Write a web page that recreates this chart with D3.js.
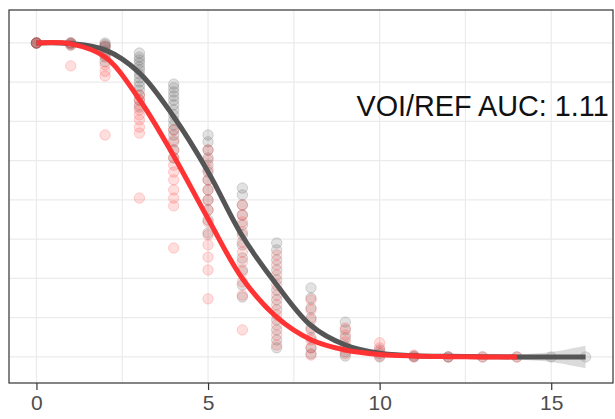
<!DOCTYPE html>
<html>
<head>
<meta charset="utf-8">
<script src="https://cdn.jsdelivr.net/npm/d3@7"></script>
<style>
    body { margin: 0; background: #fff; }
    svg { display: block; font-family: "Liberation Sans", Arial, sans-serif; }
</style>
</head>
<body>
<svg id="chart" width="615" height="419"></svg>
<script>
// fitted curves, read at integer x
const curveX = [0, 1, 2, 3, 4, 5, 6, 7, 8, 9, 10, 11, 12, 13, 14, 15, 16];
const greyCurve = [1, 0.998, 0.978, 0.905, 0.765, 0.59, 0.385, 0.23, 0.10, 0.038, 0.012, 0.004, 0.002, 0.001, 0, 0, 0];
const greyBand = [0.004, 0.004, 0.006, 0.008, 0.01, 0.01, 0.01, 0.008, 0.006, 0.005, 0.004, 0.004, 0.004, 0.005, 0.008, 0.016, 0.036];
const redX = [0, 1, 2, 3, 4, 5, 6, 7, 8, 9, 10, 11, 12, 13, 14];
const redCurve = [1, 0.997, 0.955, 0.82, 0.64, 0.44, 0.25, 0.127, 0.055, 0.022, 0.008, 0.003, 0.001, 0, 0];
const redBand = [0.004, 0.004, 0.006, 0.008, 0.01, 0.01, 0.01, 0.008, 0.006, 0.005, 0.004, 0.004, 0.004, 0.005, 0.006];

// observed points per x
const greyPoints = [
    [1, 1, 1, 1],
    [1, 1, 0.997, 0.993],
    [1, 0.995, 0.99, 0.985, 0.975, 0.965, 0.955, 0.94],
    [0.968, 0.955, 0.946, 0.936, 0.924, 0.914, 0.901, 0.889, 0.876, 0.863, 0.85, 0.834, 0.818, 0.796],
    [0.869, 0.857, 0.844, 0.831, 0.818, 0.803, 0.787, 0.771, 0.755, 0.739, 0.723, 0.707, 0.685, 0.659, 0.634],
    [0.707, 0.685, 0.659, 0.634, 0.611, 0.589, 0.564, 0.532, 0.5, 0.468, 0.436, 0.395],
    [0.538, 0.516, 0.484, 0.452, 0.42, 0.389, 0.357, 0.315, 0.277, 0.229, 0.191],
    [0.363, 0.341, 0.309, 0.277, 0.245, 0.213, 0.182, 0.15, 0.118, 0.086, 0.054, 0.029],
    [0.22, 0.188, 0.156, 0.124, 0.092, 0.061, 0.029, 0.01],
    [0.111, 0.086, 0.061, 0.035, 0.016, 0.003],
    [0.022, 0.01, 0],
    [0.003, 0],
    [0, 0],
    [0],
    [0],
    [0],
    [0]
];
const redPoints = [
    [1, 1],
    [1, 0.993, 0.927],
    [0.99, 0.96, 0.93, 0.91, 0.895, 0.707],
    [0.834, 0.818, 0.803, 0.787, 0.771, 0.755, 0.732, 0.713, 0.506],
    [0.723, 0.691, 0.659, 0.634, 0.611, 0.589, 0.564, 0.532, 0.506, 0.481, 0.347],
    [0.659, 0.627, 0.596, 0.564, 0.532, 0.5, 0.468, 0.43, 0.389, 0.357, 0.318, 0.277, 0.185],
    [0.484, 0.452, 0.43, 0.398, 0.366, 0.334, 0.303, 0.271, 0.239, 0.197, 0.086],
    [0.325, 0.293, 0.261, 0.229, 0.197, 0.166, 0.134, 0.102, 0.07, 0.038],
    [0.182, 0.15, 0.118, 0.086, 0.054, 0.029, 0.006],
    [0.092, 0.07, 0.048, 0.029, 0.01],
    [0.045, 0.029, 0.016, 0.003],
    [0.006, 0],
    [0],
    [0],
    [0]
];

const xTicks = [0, 5, 10, 15];
const xMinor = [2.5, 7.5, 12.5];
const yGrid = [0, 0.125, 0.25, 0.375, 0.5, 0.625, 0.75, 0.875, 1];
const label = "VOI/REF AUC: 1.11";

const panel = { left: 9, top: 10, right: 613, bottom: 383 };
const svg = d3.select("#chart");

const x = d3.scaleLinear().domain([-0.8, 16.8]).range([panel.left, panel.right]);
const y = d3.scaleLinear().domain([-0.083, 1.105]).range([panel.bottom, panel.top]);

// grid
const grid = svg.append("g");
grid.selectAll(".gy").data(yGrid).join("line")
    .attr("x1", panel.left).attr("x2", panel.right)
    .attr("y1", d => y(d)).attr("y2", d => y(d))
    .attr("stroke", "#ebebeb").attr("stroke-width", 1.2);
grid.selectAll(".gx").data(xTicks.concat(xMinor)).join("line")
    .attr("x1", d => x(d)).attr("x2", d => x(d))
    .attr("y1", panel.top).attr("y2", panel.bottom)
    .attr("stroke", "#ebebeb").attr("stroke-width", 1.2);

// points
function flatten(groups) {
    const out = [];
    groups.forEach((vals, i) => vals.forEach(v => out.push({ x: i, y: v })));
    return out;
}

svg.append("g").selectAll("circle").data(flatten(greyPoints)).join("circle")
    .attr("cx", d => x(d.x)).attr("cy", d => y(d.y)).attr("r", 5.2)
    .attr("fill", "#555").attr("fill-opacity", 0.17)
    .attr("stroke", "#555").attr("stroke-opacity", 0.22);

svg.append("g").selectAll("circle").data(flatten(redPoints)).join("circle")
    .attr("cx", d => x(d.x)).attr("cy", d => y(d.y)).attr("r", 5.2)
    .attr("fill", "#ff3333").attr("fill-opacity", 0.16)
    .attr("stroke", "#ff3333").attr("stroke-opacity", 0.2);

// ribbons
const area = d3.area().curve(d3.curveCatmullRom)
    .x(d => x(d.x)).y0(d => y(d.y - d.b)).y1(d => y(d.y + d.b));
const line = d3.line().curve(d3.curveCatmullRom)
    .x(d => x(d.x)).y(d => y(d.y));

const greyData = curveX.map((v, i) => ({ x: v, y: greyCurve[i], b: greyBand[i] }));
const redData = redX.map((v, i) => ({ x: v, y: redCurve[i], b: redBand[i] }));

svg.append("path").datum(greyData).attr("d", area)
    .attr("fill", "#999").attr("fill-opacity", 0.35);
svg.append("path").datum(redData).attr("d", area)
    .attr("fill", "#ff9999").attr("fill-opacity", 0.3);

svg.append("path").datum(greyData).attr("d", line)
    .attr("fill", "none").attr("stroke", "#555").attr("stroke-width", 5);
svg.append("path").datum(redData).attr("d", line)
    .attr("fill", "none").attr("stroke", "#ff3333").attr("stroke-width", 5);

// annotation
svg.append("text")
    .attr("x", x(13)).attr("y", y(0.8))
    .attr("text-anchor", "middle").attr("dominant-baseline", "central")
    .attr("font-size", 28.8).attr("fill", "#111")
    .text(label);

// border
svg.append("rect")
    .attr("x", panel.left).attr("y", panel.top)
    .attr("width", panel.right - panel.left).attr("height", panel.bottom - panel.top)
    .attr("fill", "none").attr("stroke", "#333").attr("stroke-width", 1.2);

// x axis
const xAxis = svg.append("g")
    .attr("transform", `translate(0,${panel.bottom})`)
    .call(d3.axisBottom(x).tickValues(xTicks).tickSize(7).tickPadding(5).tickFormat(d3.format("d")));
xAxis.select(".domain").remove();
xAxis.selectAll("line").attr("stroke", "#333").attr("stroke-width", 1.2);
xAxis.selectAll("text").attr("font-size", 21).attr("fill", "#4d4d4d")
    .attr("font-family", "Liberation Sans, Arial, sans-serif");
</script>
</body>
</html>
